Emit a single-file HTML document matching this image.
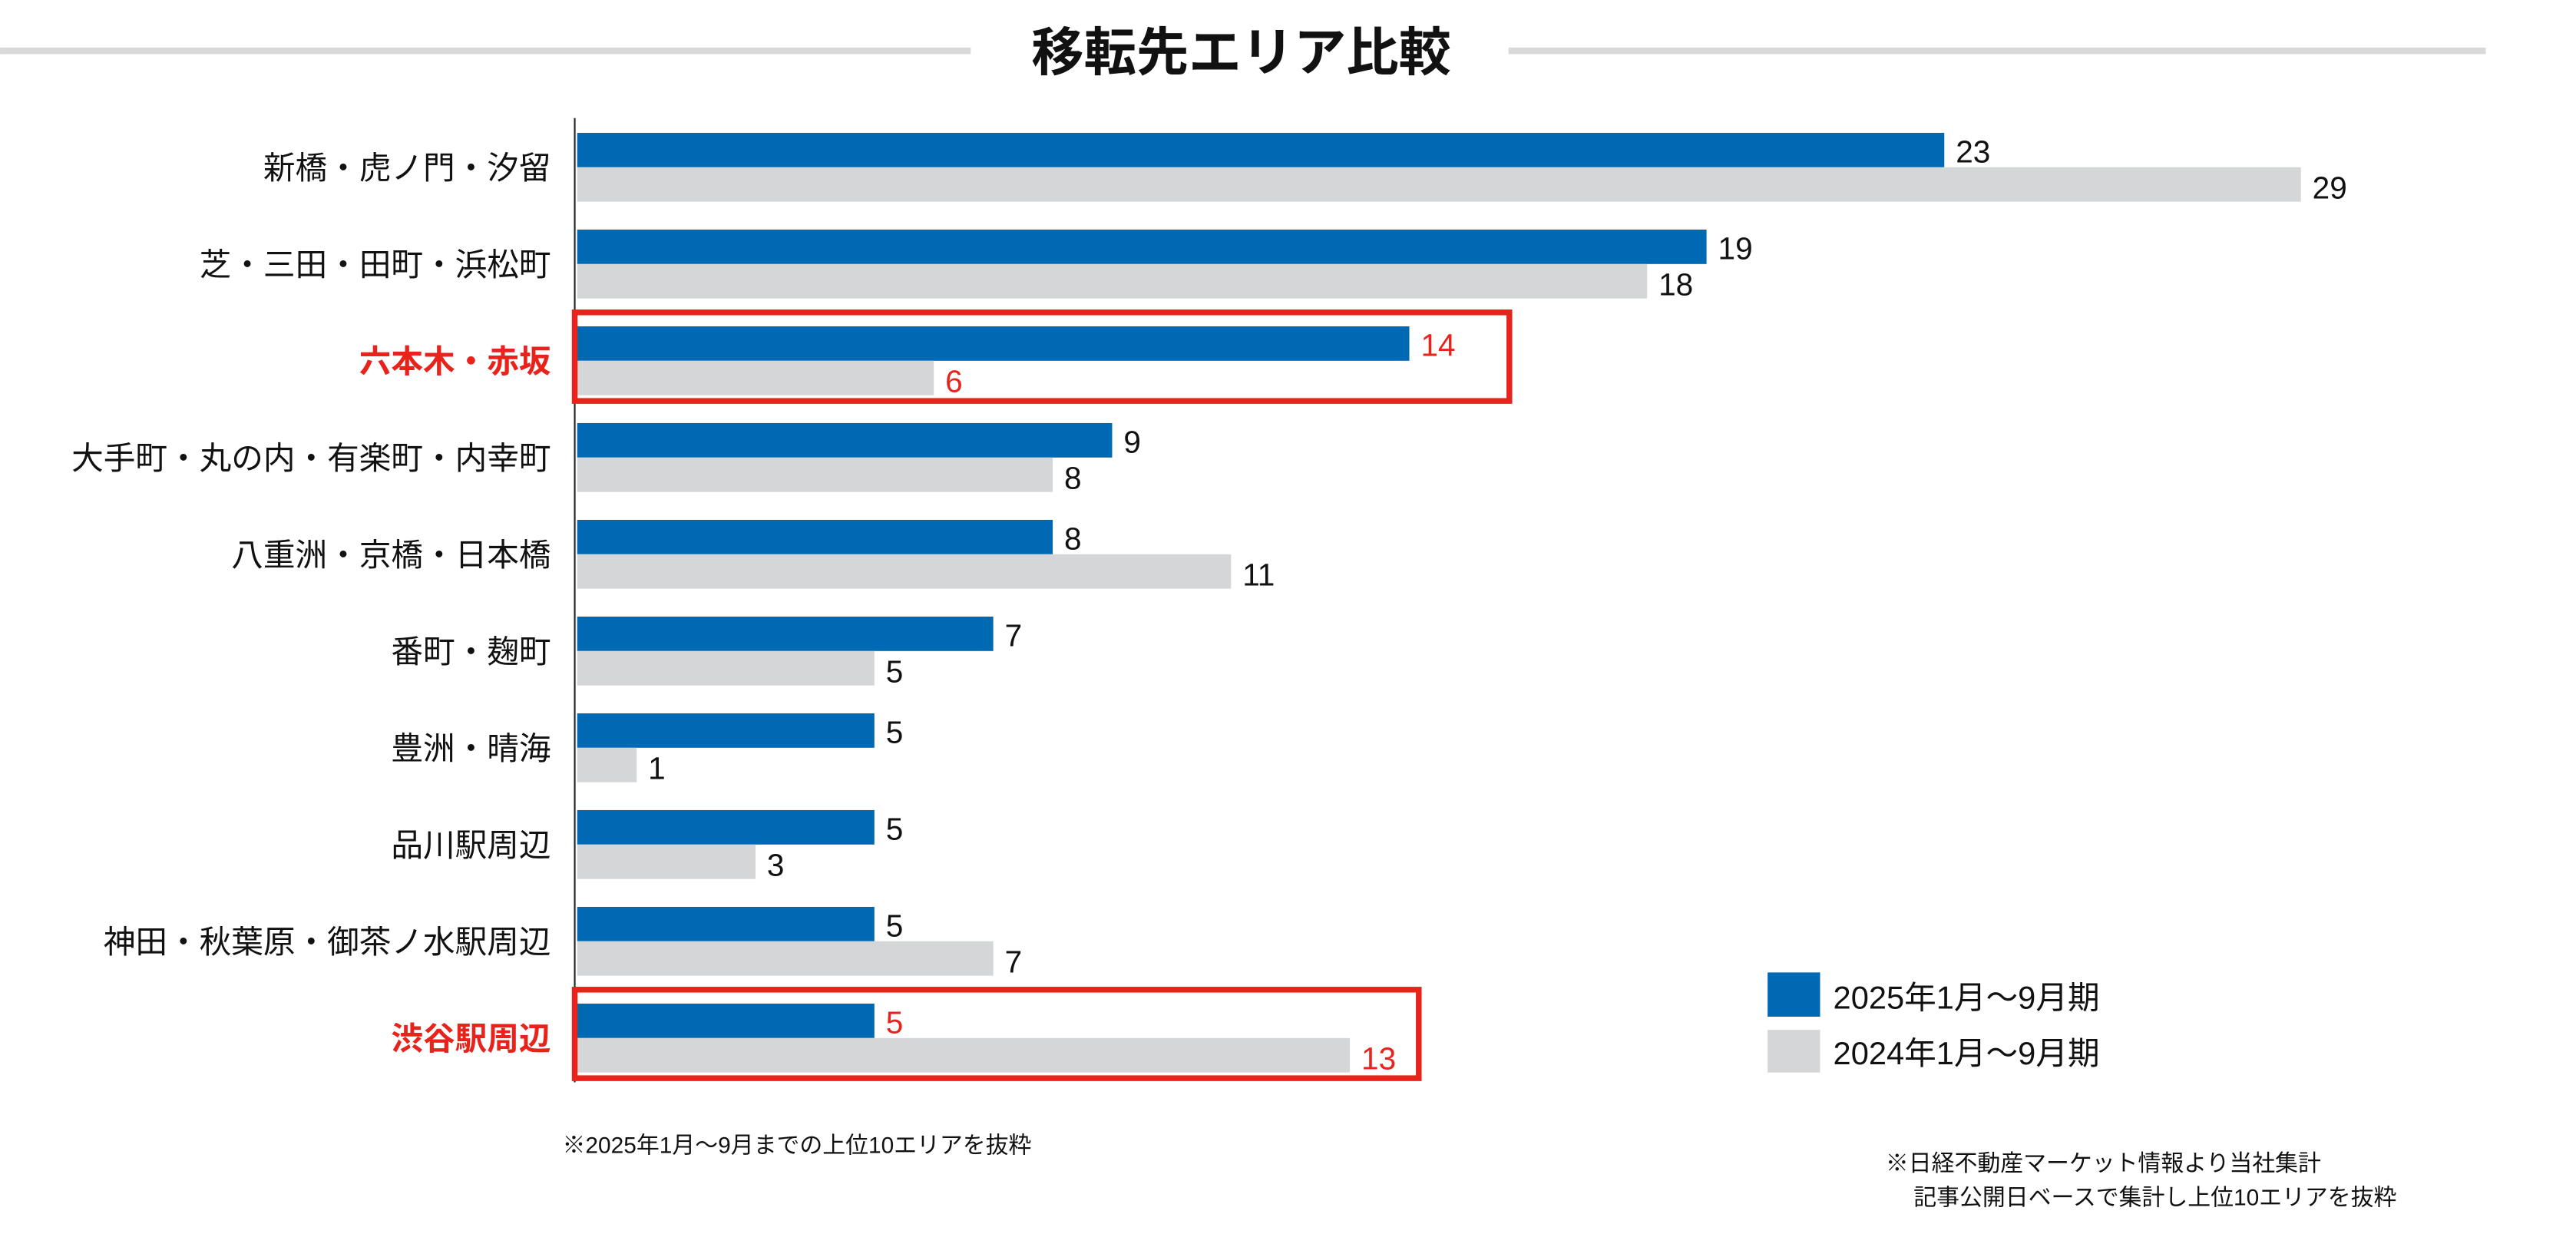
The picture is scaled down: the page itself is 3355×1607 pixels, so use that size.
<!DOCTYPE html>
<html><head><meta charset="utf-8"><style>
html,body{margin:0;padding:0;background:#fff;}
svg{display:block;font-family:"Liberation Sans","Noto Sans CJK JP",sans-serif;}
</style></head><body>
<svg id="chart" width="3355" height="1607" viewBox="0 0 1571 752.5" xmlns="http://www.w3.org/2000/svg">
<rect x="0" y="29" width="592" height="4" fill="#d9d9d9"/>
<rect x="920" y="29" width="596" height="4" fill="#d9d9d9"/>
<text x="757" y="43" text-anchor="middle" font-size="32" font-weight="bold" fill="#111">移転先エリア比較</text>
<line x1="350.5" y1="72" x2="350.5" y2="660" stroke="#222" stroke-width="1"/>
<g id="bars"></g>
<rect x="1078" y="593" width="32" height="27" fill="#0069b4"/>
<text x="1118" y="615" font-size="19.5" fill="#111">2025年1月～9月期</text>
<rect x="1078" y="628" width="32" height="26" fill="#d5d6d8"/>
<text x="1118" y="649" font-size="19.5" fill="#111">2024年1月～9月期</text>
<text x="343" y="703" font-size="14" fill="#111">※2025年1月～9月までの上位10エリアを抜粋</text>
<text x="1150" y="714" font-size="14" fill="#111">※日経不動産マーケット情報より当社集計</text>
<text x="1167" y="735" font-size="14" fill="#111">記事公開日ベースで集計し上位10エリアを抜粋</text>
</svg>
<script>
const categories = ["新橋・虎ノ門・汐留","芝・三田・田町・浜松町","六本木・赤坂","大手町・丸の内・有楽町・内幸町","八重洲・京橋・日本橋","番町・麹町","豊洲・晴海","品川駅周辺","神田・秋葉原・御茶ノ水駅周辺","渋谷駅周辺"];
const values2025 = [23,19,14,9,8,7,5,5,5,5];
const values2024 = [29,18,6,8,11,5,1,3,7,13];
const highlighted = [false,false,true,false,false,false,false,false,false,true];

const NS = "http://www.w3.org/2000/svg";
const g = document.getElementById("bars");
const x0 = 352, unit = 36.25, top0 = 81, pitch = 59, bh = 21;
const xs = v => x0 + v * unit;
const ys = i => top0 + i * pitch;
function mk(tag, attrs, txt) {
  const e = document.createElementNS(NS, tag);
  for (const k in attrs) e.setAttribute(k, attrs[k]);
  if (txt !== undefined) e.textContent = txt;
  g.appendChild(e);
  return e;
}
categories.forEach((c, i) => {
  const y = ys(i);
  const hl = highlighted[i];
  const col = hl ? "#e8231c" : "#111";
  const lab = mk("text", {x: 336, y: y + 28, "text-anchor": "end", "font-size": 19.5, fill: col, "font-weight": hl ? "bold" : "normal"}, c);
  
  
  const b1 = mk("rect", {x: x0, y: y, width: xs(values2025[i]) - x0, height: bh, fill: "#0069b4"});
  
  
  const b2 = mk("rect", {x: x0, y: y + bh, width: xs(values2024[i]) - x0, height: bh, fill: "#d5d6d8"});
  
  
  const v1 = mk("text", {x: xs(values2025[i]) + 7, y: y + 18, "font-size": 19, fill: col}, values2025[i]);
  
  
  const v2 = mk("text", {x: xs(values2024[i]) + 7, y: y + bh + 19, "font-size": 19, fill: col}, values2024[i]);
  
  
  if (hl) {
    const big25 = values2025[i] >= values2024[i];
    const mx = Math.max(values2025[i], values2024[i]);
    const pad = big25 ? 61 : 42;
    const box = mk("rect", {x: 350.5, y: y - 8.5, width: xs(mx) + pad - 350.5, height: 54, fill: "none", stroke: "#e8231c", "stroke-width": 3.5});
    
    
  }
});
</script>
</body></html>
